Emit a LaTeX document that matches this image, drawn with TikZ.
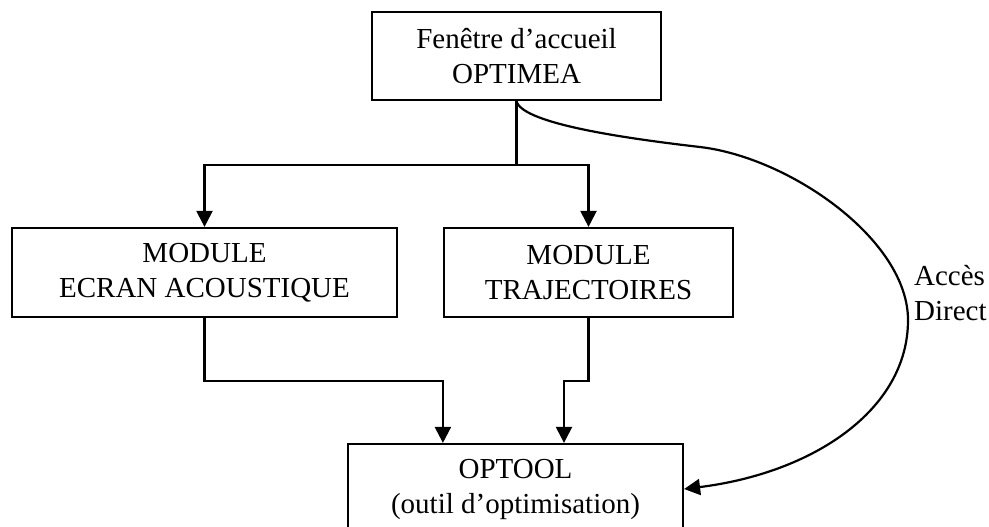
\documentclass[tikz,border=0pt]{standalone}
\usepackage{fontspec}
\setmainfont{Liberation Serif}
\usetikzlibrary{arrows.meta,calc}
\begin{document}
\begin{tikzpicture}[x=0.5pt,y=-0.5pt,line width=1.1pt,
    every node/.style={font=\fontsize{14.5pt}{17.5pt}\selectfont},
    box/.style={draw,align=center,inner sep=0pt},
    >={Triangle[width=8pt,length=8pt]}]
      \useasboundingbox (0,0) rectangle (989,526);

      \node[box,minimum width=144.5pt,minimum height=44pt] (acc) at (516.5,56) {Fenêtre d’accueil\\OPTIMEA};
      \node[box,minimum width=192.5pt,minimum height=44.5pt] (ecr) at (204.5,272.5) {MODULE\\ECRAN ACOUSTIQUE};
      \node[box,minimum width=144.5pt,minimum height=44.5pt] (traj) at (588.5,272.5) {MODULE\\TRAJECTOIRES};
      \node[box,minimum width=167.5pt,minimum height=45pt] (opt) at (515.5,489) {OPTOOL\\(outil d’optimisation)};

      \node[anchor=west,align=left,inner sep=0pt] (dir) at (913,293) {Accès\\Direct};

      \draw (acc.south) -- ++(0,64) coordinate (split);
      \draw[->] (split) -| (ecr.north);
      \draw[->] (split) -| (traj.north);
      \draw[->] (ecr.south) -- ++(0,63) -| (opt.north -| traj.west);
      \draw[->] (traj.south) -- ++(0,63) -| ($(opt.north)+(48.5,0)$);
      \draw[->] (acc.south) .. controls (522,125) and (640,140) .. (700,147)
        .. controls (790,157.5) and (908,240) .. (908,320)
        .. controls (908,410) and (813,473) .. (opt.east);
    \end{tikzpicture}
\end{document}
